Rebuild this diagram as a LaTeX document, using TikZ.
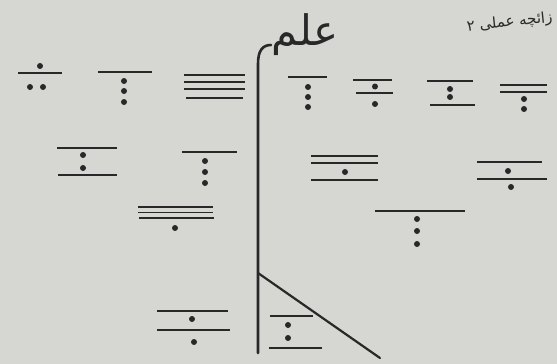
\documentclass[tikz,border=0pt]{standalone}
\usepackage{fontspec}
\TeXXeTstate=1
\newfontfamily\arabicfont[Script=Arabic]{DejaVu Sans}
\definecolor{paper}{RGB}{214,215,211}
\definecolor{ink}{RGB}{40,40,40}
\tikzset{
  bar/.style={draw=ink,line width=1.5pt},
  stem/.style={draw=ink,line width=2.6pt,line cap=round},
  word/.style={text=ink,inner sep=0pt,font=\arabicfont}
}
\newcommand\dt[2]{\fill[ink] (#1,#2) circle (3pt);}
\newcommand\br[3]{\draw[bar] (#1,#3) -- (#2,#3);}
\begin{document}
\begin{tikzpicture}[x=1pt,y=-1pt]
\useasboundingbox (0,0) rectangle (557,364);
\fill[paper] (0,0) rectangle (557,364);
% title words
\node[word,font=\arabicfont\fontsize{42}{42}\selectfont,anchor=base west] (ilm) at (271,45) {\beginR علم\endR};
\node[word,font=\arabicfont\fontsize{15}{15}\selectfont,anchor=base east,rotate=6] (zaicha) at (553,22) {\beginR زائچه عملی ۲\endR};
% main stem
\coordinate (vb) at (258,353);
\coordinate (vt) at (258,64);
\coordinate (vk) at (258,273);
\coordinate (de) at (380,358);
\draw[stem] (vb) -- (vt) .. controls (258,50) and (263,45) .. (ilm.base west);
\draw[stem,line width=2.2pt] (vk) -- (de);
% top row, left
\dt{40}{66} \br{18}{62}{73} \dt{30}{87} \dt{43}{87}
\br{98}{152}{72} \dt{124}{81} \dt{124}{91} \dt{124}{102}
\br{184}{245}{75} \br{184}{245}{82} \br{184}{245}{89} \br{186}{243}{98}
% top row, right
\br{288}{327}{77} \dt{308}{87} \dt{308}{97} \dt{308}{107}
\br{353}{392}{80} \dt{375}{86.5} \br{356}{393}{93} \dt{375}{104}
\br{427}{473}{81} \dt{450}{89} \dt{450}{97} \br{430}{475}{105}
\br{500}{547}{85} \br{500}{547}{92} \dt{524}{99} \dt{524}{109}
% second row
\br{57}{117}{148} \dt{83}{155} \dt{83}{168} \br{58}{117}{175}
\br{182}{237}{152} \dt{205}{161} \dt{205}{172} \dt{205}{183}
\br{311}{378}{156} \br{311}{378}{163} \dt{345}{172} \br{311}{378}{180}
\br{477}{542}{162} \dt{508}{171} \br{477}{547}{179} \dt{511}{187}
% third row
\br{138}{213}{207} \br{138}{213}{212.5} \br{139}{214}{218} \dt{175}{228}
\br{375}{465}{211} \dt{417}{219} \dt{417}{231} \dt{417}{244}
% bottom
\br{157}{228}{311} \dt{192}{319} \br{157}{230}{330} \dt{194}{342}
\br{270}{313}{316} \dt{288}{325} \dt{288}{338} \br{269}{322}{348}
\end{tikzpicture}
\end{document}
